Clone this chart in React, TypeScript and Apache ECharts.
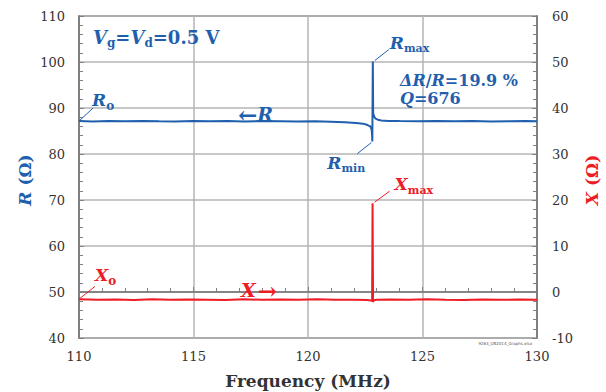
import React, { useEffect, useRef } from "react";
import * as echarts from "echarts";

// Frequency (MHz) and resistance R (Ω)
const freqR = [110, 110.6, 111.3, 112, 112.8, 113.5, 114.2, 115, 115.7, 116.5, 117.2, 118, 118.8, 119.5, 120.3, 121, 121.6, 122.1, 122.4, 122.6, 122.72, 122.78, 122.8, 122.81, 122.83, 122.845, 122.87, 122.9, 122.95, 123.05, 123.2, 123.5, 124, 124.8, 125.6, 126.4, 127.2, 128, 128.8, 129.5, 130];
const valR = [87.15, 87.05, 87.2, 87.1, 87.2, 87.1, 87.05, 87.2, 87.1, 87.15, 87.05, 87.15, 87.1, 87.05, 87.1, 87.0, 86.9, 86.75, 86.6, 86.3, 86.0, 85.3, 84.0, 82.7, 100.1, 89.0, 88.4, 88.0, 87.7, 87.45, 87.3, 87.2, 87.15, 87.1, 87.2, 87.1, 87.15, 87.05, 87.1, 87.15, 87.1];

// Frequency (MHz) and reactance X (Ω)
const freqX = [110, 110.8, 111.6, 112.4, 113.2, 114, 114.8, 115.6, 116.4, 117.2, 118, 118.8, 119.6, 120.4, 121.2, 122, 122.6, 122.8, 122.82, 122.84, 122.87, 123, 123.6, 124.4, 125.2, 126, 126.8, 127.6, 128.4, 129.2, 130];
const valX = [-1.6, -1.7, -1.65, -1.75, -1.6, -1.7, -1.65, -1.7, -1.75, -1.6, -1.7, -1.65, -1.7, -1.6, -1.7, -1.7, -1.75, -1.9, 19.3, -2.2, -1.8, -1.7, -1.65, -1.7, -1.6, -1.7, -1.75, -1.65, -1.7, -1.65, -1.7];

// Axis ranges
const xRange = [110, 130, 5];
const rRange = [40, 110, 10];
const xReRange = [-10, 60, 10];

// Annotation anchors (frequency, value)
const rMax = [122.83, 100.1];
const rMin = [122.81, 82.7];
const xMax = [122.82, 19.3];
const r0 = [110, 87.15];
const x0 = [110, -1.6];

const BLUE = "#1f5fae";
const RED = "#ee1c25";
const GRAY = "#333333";
const FONT = "DejaVu Serif";

export default function App() {
  const ref = useRef<HTMLDivElement>(null);
  useEffect(() => {
    document.body.style.margin = "0";
    const chart = echarts.init(ref.current!, null, { renderer: "svg" });
    const axisLine = { lineStyle: { color: "#707070", width: 1.5 } };
    const tick = { show: true, inside: true, length: 5, lineStyle: { color: "#808080", width: 1 } };
    const minor = { show: true, splitNumber: 5, length: 4, lineStyle: { color: "#808080", width: 1 } };
    const label = { fontFamily: FONT, fontSize: 13, color: GRAY };
    chart.setOption({
      animation: false,
      grid: { left: 79, right: 69, top: 16, bottom: 54, show: true, borderColor: "#707070", borderWidth: 1.5 },
      xAxis: {
        type: "value", min: xRange[0], max: xRange[1], interval: xRange[2],
        axisLine, axisTick: tick, minorTick: minor,
        splitLine: { show: true, lineStyle: { color: "#b4b4b4", width: 1.5 } },
        axisLabel: { ...label, margin: 12 },
      },
      yAxis: [
        {
          type: "value", min: rRange[0], max: rRange[1], interval: rRange[2], position: "left",
          axisLine: { show: true, ...axisLine }, axisTick: tick, minorTick: minor,
          splitLine: { show: true, lineStyle: { color: "#b4b4b4", width: 1.5 } },
          axisLabel: { ...label, margin: 14 },
        },
        {
          type: "value", min: xReRange[0], max: xReRange[1], interval: xReRange[2], position: "right",
          axisLine: { show: true, ...axisLine }, axisTick: tick, minorTick: minor,
          splitLine: { show: false },
          axisLabel: { ...label, margin: 15 },
        },
      ],
      series: [
        {
          type: "line", yAxisIndex: 0, showSymbol: false, symbol: "none",
          data: freqR.map((f, i) => [f, valR[i]]),
          lineStyle: { color: BLUE, width: 2 }, z: 3,
        },
        {
          type: "line", yAxisIndex: 1, showSymbol: false, symbol: "none",
          data: freqX.map((f, i) => [f, valX[i]]),
          lineStyle: { color: RED, width: 2 }, z: 2,
        },
      ],
    });

    const px = (s: number, pt: number[]) => chart.convertToPixel({ seriesIndex: s }, pt) as number[];
    const pMaxR = px(0, rMax);
    const pMinR = px(0, rMin);
    const pMaxX = px(1, xMax);
    const pR0 = px(0, r0);
    const pX0 = px(1, x0);

    const big = (fill: string, size = 17) => ({ fontFamily: FONT, fontSize: size, fontWeight: "bold", fontStyle: "italic", fill });
    const up = (fill: string, size = 17) => ({ fontFamily: FONT, fontSize: size, fontWeight: "bold", fill });
    const sub = (fill: string, size = 11) => ({ fontFamily: FONT, fontSize: size, fontWeight: "bold", fill, padding: [12, 0, 0, 0] });

    const leader = (x1: number, y1: number, x2: number, y2: number, c: string) => ({
      type: "line", shape: { x1, y1, x2, y2 }, style: { stroke: c, lineWidth: 1 }, silent: true, z: 10,
    });
    const txt = (x: number, y: number, text: string, rich: any, align = "left", rotation = 0) => ({
      type: "text", x, y, rotation, z: 10,
      style: { text, rich, align, verticalAlign: "middle" },
    });

    chart.setOption({
      graphic: [
        txt(93, 37, "{v|V}{s|g}{n|=}{v|V}{s|d}{n|=0.5 V}", { v: big(BLUE, 18), n: up(BLUE, 18), s: sub(BLUE, 12) }),
        txt(400, 80, "{i|ΔR}{n|/}{i|R}{n|=19.9 %}", { i: big(BLUE, 16), n: up(BLUE, 16) }),
        txt(400, 98, "{i|Q}{n|=676}", { i: big(BLUE, 16), n: up(BLUE, 16) }),
        txt(238, 114, "{n|←}{i|R}", { i: big(BLUE, 19), n: up(BLUE, 23) }),
        txt(241, 290, "{i|X}{n|→}", { i: big(RED, 19), n: { ...up(RED, 23), padding: [0, 0, 0, 2] } }),
        // R max
        leader(pMaxR[0] + 2, pMaxR[1] - 1, pMaxR[0] + 16, pMaxR[1] - 12, BLUE),
        txt(pMaxR[0] + 17, pMaxR[1] - 19, "{i|R}{s|max}", { i: big(BLUE), s: sub(BLUE) }),
        // R min
        leader(pMinR[0] - 1, pMinR[1] + 1, pMinR[0] - 15, pMinR[1] + 12, BLUE),
        txt(pMinR[0] - 45, pMinR[1] + 21, "{i|R}{s|min}", { i: big(BLUE), s: sub(BLUE) }),
        // X max
        leader(pMaxX[0] + 2, pMaxX[1] - 1, pMaxX[0] + 17, pMaxX[1] - 12, RED),
        txt(pMaxX[0] + 22, pMaxX[1] - 19, "{i|X}{s|max}", { i: big(RED), s: sub(RED) }),
        // R0
        leader(pR0[0] + 1, pR0[1] - 1, pR0[0] + 14, pR0[1] - 13, BLUE),
        txt(pR0[0] + 13, pR0[1] - 21, "{i|R}{s|o}", { i: big(BLUE), s: sub(BLUE, 12) }),
        // X0
        leader(pX0[0] + 1, pX0[1] - 1, pX0[0] + 16, pX0[1] - 13, RED),
        txt(pX0[0] + 16, pX0[1] - 24, "{i|X}{s|o}", { i: big(RED), s: sub(RED, 12) }),
        // axis titles
        txt(25, 180, "{i|R}{n| (Ω)}", { i: big(BLUE), n: up(BLUE) }, "center", Math.PI / 2),
        txt(592, 180, "{i|X}{n| (Ω)}", { i: big(RED), n: up(RED) }, "center", Math.PI / 2),
        {
          type: "text", x: 308, y: 381, z: 10,
          style: { text: "Frequency (MHz)", fontFamily: FONT, fontSize: 17, fontWeight: "bold", fill: GRAY, align: "center", verticalAlign: "middle" },
        },
        {
          type: "text", x: 532, y: 343, z: 10,
          style: { text: "9263_UB2014_Graphs.xlsx", fontFamily: "DejaVu Sans", fontSize: 4, fill: "#555", align: "right", verticalAlign: "middle" },
        },
      ],
    });
    return () => chart.dispose();
  }, []);
  return <div ref={ref} style={{ width: 606, height: 392 }} />;
}
